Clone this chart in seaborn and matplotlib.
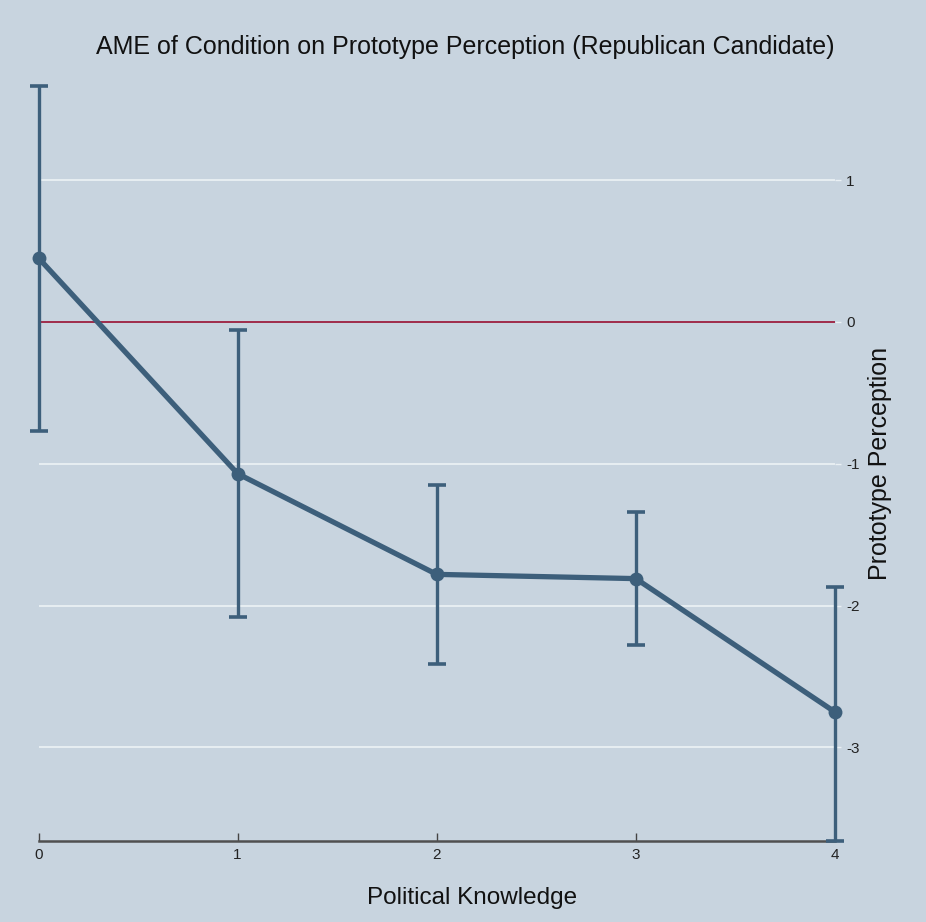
import matplotlib
matplotlib.use("Agg")
import matplotlib.pyplot as plt
import seaborn as sns
import numpy as np
import pandas as pd

knowledge = [0, 1, 2, 3, 4]
ame = [0.45, -1.07, -1.78, -1.81, -2.75]
ci_low = [-0.77, -2.08, -2.41, -2.28, -3.66]
ci_high = [1.66, -0.06, -1.15, -1.34, -1.87]
yticks = [1, 0, -1, -2, -3]
xticks = [0, 1, 2, 3, 4]

df = pd.DataFrame({"Political Knowledge": knowledge, "AME": ame,
                   "lo": ci_low, "hi": ci_high})

sns.set_theme(style="white")
plt.rcParams['font.family'] = ['Liberation Sans', 'DejaVu Sans']

bg = "#c8d4df"
navy = "#3d5f7b"

fig = plt.figure(figsize=(9.26, 9.22), dpi=100, facecolor=bg)
ax = fig.add_axes([0.0416, 0.0878, 0.860, 0.8185])
ax.set_facecolor(bg)

# grid lines
for t in yticks:
    if t != 0:
        ax.axhline(t, color="#eaf0f4", lw=1.3, zorder=1)
ax.axhline(0, color="#9c1f3f", lw=1.3, zorder=2)

# error bars
yerr = np.array([df["AME"] - df["lo"], df["hi"] - df["AME"]])
ax.errorbar(df["Political Knowledge"], df["AME"], yerr=yerr, fmt="none",
            ecolor=navy, elinewidth=2.4, capsize=6.5, capthick=2.6,
            zorder=3, clip_on=False)

sns.lineplot(data=df, x="Political Knowledge", y="AME", ax=ax, color=navy,
             lw=3.8, marker="o", markersize=10, markeredgewidth=0,
             zorder=4, clip_on=False)

ax.set_xlim(0, 4)
ax.set_ylim(-3.66, 1.66)
ax.set_xticks(xticks)
ax.set_yticks(yticks)
ax.set_xticklabels([str(v) for v in xticks], fontsize=11, color="#222222")
ax.set_yticklabels([str(v) for v in yticks], fontsize=11, color="#222222")

ax.yaxis.tick_right()
ax.yaxis.set_label_position("right")
ax.tick_params(axis="y", length=4, width=1, color="#eaf0f4", pad=4, right=True, left=False)
ax.tick_params(axis="x", direction="in", length=6, width=1, color="#444444", pad=5, bottom=True)

for s in ["top", "left", "right"]:
    ax.spines[s].set_visible(False)
ax.spines["bottom"].set_color("#505050")
ax.spines["bottom"].set_linewidth(1.8)

ax.set_xlabel("")
ax.set_ylabel("Prototype Perception", fontsize=18, color="#111111", labelpad=6)
fig.text(0.510, 1 - 898 / 922, "Political Knowledge", fontsize=17.5,
         color="#111111", ha="center", va="center")
fig.text(0.502, 1 - 47 / 922,
         "AME of Condition on Prototype Perception (Republican Candidate)",
         fontsize=18, color="#111111", ha="center", va="center")

fig.savefig("out.png", dpi=100, facecolor=bg)
